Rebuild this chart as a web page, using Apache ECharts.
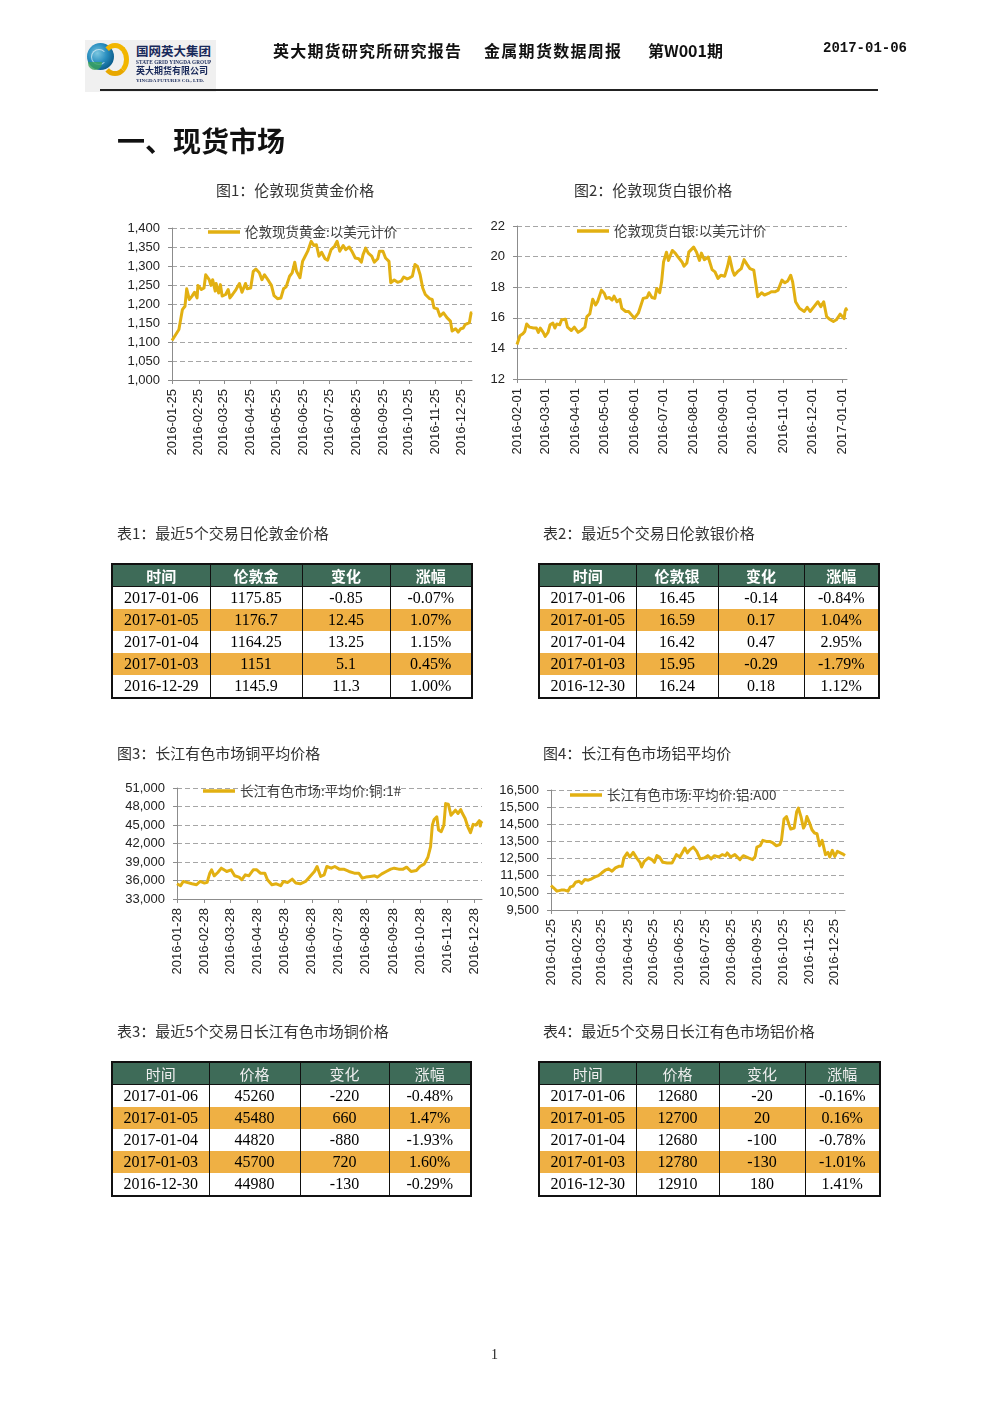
<!DOCTYPE html>
<html><head><meta charset="utf-8">
<script src="https://cdn.jsdelivr.net/npm/echarts@6/dist/echarts.min.js"></script>
<style>
html,body{margin:0;padding:0;background:#fff;}
body{width:992px;height:1403px;position:relative;overflow:hidden;}
#chart{position:absolute;left:0;top:0;width:992px;height:1403px;}
.a{position:absolute;white-space:nowrap;}
.cj{font-family:"Noto Sans CJK SC",sans-serif;}
.cap{font-family:"Noto Sans CJK SC",sans-serif;font-size:15px;line-height:15px;color:#333;}
table.t{position:absolute;border-collapse:collapse;table-layout:fixed;border:2px solid #111;}
table.t th{background:#3E6B58;color:#fff;font-family:"Noto Sans CJK SC",sans-serif;font-size:15px;font-weight:700;height:21px;line-height:21px;padding:0;border-left:1.5px solid #111;border-right:1.5px solid #111;border-bottom:1px solid #111;text-align:center;}
table.t.light th{font-weight:400;color:#eee;}
table.t td{font-family:"Liberation Serif",serif;font-size:16px;height:22px;line-height:22px;padding:0;text-align:center;border-left:1.5px solid #111;border-right:1.5px solid #111;color:#000;}
table.t tr.o td{background:#EFB044;}
</style></head><body>
<div id="chart"></div>
<script>
// ---------------- DATA ----------------
const goldTicks = ['2016-01-25','2016-02-25','2016-03-25','2016-04-25','2016-05-25','2016-06-25','2016-07-25','2016-08-25','2016-09-25','2016-10-25','2016-11-25','2016-12-25'];
const silverTicks = ['2016-02-01','2016-03-01','2016-04-01','2016-05-01','2016-06-01','2016-07-01','2016-08-01','2016-09-01','2016-10-01','2016-11-01','2016-12-01','2017-01-01'];
const copperTicks = ['2016-01-28','2016-02-28','2016-03-28','2016-04-28','2016-05-28','2016-06-28','2016-07-28','2016-08-28','2016-09-28','2016-10-28','2016-11-28','2016-12-28'];
const aluTicks = ['2016-01-25','2016-02-25','2016-03-25','2016-04-25','2016-05-25','2016-06-25','2016-07-25','2016-08-25','2016-09-25','2016-10-25','2016-11-25','2016-12-25'];

const goldData = [
['2016-01-25',1104],['2016-02-02',1133],['2016-02-06',1185],['2016-02-09',1194],['2016-02-11',1240],['2016-02-14',1212],['2016-02-17',1220],['2016-02-20',1231],['2016-02-23',1216],['2016-02-24',1249],['2016-02-28',1238],['2016-03-02',1242],['2016-03-04',1277],['2016-03-08',1264],['2016-03-10',1249],['2016-03-12',1264],['2016-03-15',1234],['2016-03-16',1254],['2016-03-19',1229],['2016-03-21',1251],['2016-03-23',1221],['2016-03-27',1225],['2016-03-30',1238],['2016-04-01',1216],['2016-04-04',1225],['2016-04-08',1238],['2016-04-12',1254],['2016-04-15',1231],['2016-04-19',1254],['2016-04-21',1240],['2016-04-25',1242],['2016-04-28',1286],['2016-05-01',1292],['2016-05-05',1282],['2016-05-08',1264],['2016-05-11',1277],['2016-05-13',1282],['2016-05-16',1260],['2016-05-19',1249],['2016-05-22',1222],['2016-05-26',1214],['2016-05-30',1216],['2016-06-02',1240],['2016-06-05',1245],['2016-06-09',1273],['2016-06-12',1282],['2016-06-15',1310],['2016-06-17',1286],['2016-06-21',1269],['2016-06-24',1312],['2016-06-26',1321],['2016-06-30',1339],['2016-07-04',1365],['2016-07-07',1354],['2016-07-10',1356],['2016-07-13',1326],['2016-07-16',1336],['2016-07-20',1319],['2016-07-23',1315],['2016-07-27',1343],['2016-07-31',1352],['2016-08-03',1365],['2016-08-06',1339],['2016-08-10',1354],['2016-08-13',1343],['2016-08-17',1350],['2016-08-20',1339],['2016-08-24',1321],['2016-08-28',1319],['2016-08-31',1310],['2016-09-02',1330],['2016-09-05',1347],['2016-09-08',1334],['2016-09-12',1326],['2016-09-15',1310],['2016-09-19',1319],['2016-09-21',1339],['2016-09-25',1339],['2016-09-28',1321],['2016-10-02',1312],['2016-10-04',1256],['2016-10-08',1263],['2016-10-12',1257],['2016-10-16',1260],['2016-10-19',1271],['2016-10-23',1266],['2016-10-26',1269],['2016-10-29',1273],['2016-11-01',1304],['2016-11-04',1299],['2016-11-07',1277],['2016-11-10',1242],['2016-11-13',1225],['2016-11-15',1229],['2016-11-18',1214],['2016-11-21',1212],['2016-11-23',1190],['2016-11-27',1187],['2016-11-30',1168],['2016-12-04',1177],['2016-12-08',1164],['2016-12-12',1155],['2016-12-14',1129],['2016-12-18',1135],['2016-12-21',1126],['2016-12-24',1135],['2016-12-27',1137],['2016-12-29',1145.9],['2017-01-03',1151],['2017-01-04',1164.25],['2017-01-05',1176.7],['2017-01-06',1175.85]
];
const silverData = [
['2016-02-01',14.25],['2016-02-04',14.83],['2016-02-07',14.96],['2016-02-09',15.11],['2016-02-11',15.6],['2016-02-14',15.39],['2016-02-18',15.33],['2016-02-21',15.33],['2016-02-23',15.05],['2016-02-25',15.33],['2016-02-28',15.05],['2016-03-01',14.79],['2016-03-04',15.05],['2016-03-06',15.54],['2016-03-09',15.65],['2016-03-11',15.33],['2016-03-13',15.6],['2016-03-16',15.54],['2016-03-18',15.87],['2016-03-19',15.97],['2016-03-22',15.91],['2016-03-24',15.39],['2016-03-28',15.17],['2016-03-31',15.39],['2016-04-04',15.05],['2016-04-07',15.17],['2016-04-11',15.39],['2016-04-13',16.08],['2016-04-16',16.25],['2016-04-19',17.21],['2016-04-22',16.84],['2016-04-24',17.05],['2016-04-28',17.81],['2016-05-01',17.59],['2016-05-03',17.27],['2016-05-06',17.33],['2016-05-09',17.16],['2016-05-11',17.42],['2016-05-14',17.05],['2016-05-17',17.21],['2016-05-19',16.62],['2016-05-23',16.41],['2016-05-26',16.41],['2016-05-29',16.19],['2016-06-01',15.97],['2016-06-05',16.3],['2016-06-07',16.41],['2016-06-10',17.27],['2016-06-14',17.33],['2016-06-16',17.64],['2016-06-19',17.33],['2016-06-22',17.27],['2016-06-24',17.92],['2016-06-27',17.64],['2016-06-29',18.35],['2016-07-01',19.65],['2016-07-04',20.29],['2016-07-06',19.75],['2016-07-10',20.4],['2016-07-13',20.23],['2016-07-16',19.97],['2016-07-20',19.65],['2016-07-22',19.37],['2016-07-25',19.58],['2016-07-27',20.29],['2016-08-01',20.62],['2016-08-04',20.29],['2016-08-07',19.75],['2016-08-09',20.23],['2016-08-12',19.8],['2016-08-16',19.97],['2016-08-20',19.15],['2016-08-23',19.0],['2016-08-26',18.57],['2016-08-29',18.78],['2016-09-02',18.72],['2016-09-05',19.37],['2016-09-07',19.97],['2016-09-10',19.11],['2016-09-12',18.78],['2016-09-15',19.0],['2016-09-19',19.21],['2016-09-22',19.8],['2016-09-25',19.49],['2016-09-28',19.21],['2016-10-02',19.11],['2016-10-04',18.24],['2016-10-06',17.38],['2016-10-10',17.64],['2016-10-13',17.49],['2016-10-17',17.59],['2016-10-20',17.7],['2016-10-24',17.7],['2016-10-27',17.81],['2016-10-31',18.46],['2016-11-03',18.29],['2016-11-06',18.41],['2016-11-09',18.78],['2016-11-11',18.35],['2016-11-14',17.05],['2016-11-18',16.62],['2016-11-20',16.73],['2016-11-23',16.41],['2016-11-26',16.69],['2016-11-29',16.41],['2016-12-03',16.73],['2016-12-07',17.05],['2016-12-10',16.73],['2016-12-13',17.05],['2016-12-16',16.08],['2016-12-19',15.91],['2016-12-23',15.76],['2016-12-26',15.87],['2016-12-30',16.24],['2017-01-03',15.95],['2017-01-04',16.42],['2017-01-05',16.59],['2017-01-06',16.45]
];
const copperData = [
['2016-01-28',35470],['2016-02-01',35150],['2016-02-04',35850],['2016-02-08',35690],['2016-02-14',35470],['2016-02-19',35310],['2016-02-23',35850],['2016-02-28',35580],['2016-03-02',35690],['2016-03-05',37190],['2016-03-07',37730],['2016-03-10',36760],['2016-03-14',37300],['2016-03-18',38000],['2016-03-21',37730],['2016-03-24',37460],['2016-03-29',37730],['2016-04-02',36760],['2016-04-07',36550],['2016-04-10',36120],['2016-04-14',36920],['2016-04-18',36760],['2016-04-23',37730],['2016-04-27',37730],['2016-05-01',37190],['2016-05-06',37190],['2016-05-09',36120],['2016-05-14',35310],['2016-05-19',35470],['2016-05-24',35150],['2016-05-27',35850],['2016-06-01',35690],['2016-06-06',36220],['2016-06-10',35580],['2016-06-15',35470],['2016-06-21',35850],['2016-06-26',36650],['2016-07-01',37460],['2016-07-04',38270],['2016-07-08',36650],['2016-07-12',36920],['2016-07-15',38270],['2016-07-20',38000],['2016-07-24',38270],['2016-07-29',37840],['2016-08-03',37840],['2016-08-09',37460],['2016-08-15',37190],['2016-08-20',37190],['2016-08-24',36380],['2016-08-28',36550],['2016-09-02',36650],['2016-09-07',36760],['2016-09-10',36550],['2016-09-15',37080],['2016-09-20',37460],['2016-09-25',37840],['2016-09-29',38000],['2016-10-04',37840],['2016-10-09',37840],['2016-10-13',38160],['2016-10-18',37460],['2016-10-24',37620],['2016-10-28',38270],['2016-11-02',38700],['2016-11-06',39770],['2016-11-09',41490],['2016-11-11',44980],['2016-11-13',45900],['2016-11-16',46330],['2016-11-18',44180],['2016-11-21',43910],['2016-11-24',44980],['2016-11-26',48470],['2016-11-29',48370],['2016-12-02',46590],['2016-12-04',46590],['2016-12-07',47400],['2016-12-10',46860],['2016-12-13',47510],['2016-12-15',46860],['2016-12-18',46060],['2016-12-21',44710],['2016-12-24',43750],['2016-12-27',45100],['2016-12-30',44980],['2017-01-03',45700],['2017-01-04',44820],['2017-01-05',45480],['2017-01-06',45260]
];
const aluData = [
['2016-01-25',10930],['2016-01-28',10795],['2016-02-01',10600],['2016-02-03',10505],['2016-02-06',10660],['2016-02-10',10660],['2016-02-14',10600],['2016-02-17',10850],['2016-02-20',10890],['2016-02-23',11120],['2016-02-27',11180],['2016-03-01',11050],['2016-03-05',11280],['2016-03-09',11240],['2016-03-13',11320],['2016-03-17',11430],['2016-03-21',11510],['2016-03-25',11670],['2016-03-29',11820],['2016-04-02',11900],['2016-04-06',11760],['2016-04-10',11955],['2016-04-14',12050],['2016-04-18',12050],['2016-04-20',12540],['2016-04-24',12830],['2016-04-27',12590],['2016-05-01',12860],['2016-05-05',12540],['2016-05-09',12280],['2016-05-11',12010],['2016-05-14',12340],['2016-05-19',12540],['2016-05-23',12440],['2016-05-26',12280],['2016-05-29',12670],['2016-06-01',12590],['2016-06-05',12280],['2016-06-10',12245],['2016-06-16',12245],['2016-06-18',12340],['2016-06-21',12730],['2016-06-25',12590],['2016-06-27',12670],['2016-07-01',13115],['2016-07-04',12830],['2016-07-07',13020],['2016-07-11',13170],['2016-07-15',12920],['2016-07-19',12480],['2016-07-24',12540],['2016-07-28',12670],['2016-08-01',12480],['2016-08-05',12670],['2016-08-10',12590],['2016-08-14',12730],['2016-08-18',12670],['2016-08-20',12830],['2016-08-24',12590],['2016-08-29',12730],['2016-09-04',12440],['2016-09-08',12670],['2016-09-14',12540],['2016-09-19',12440],['2016-09-22',12630],['2016-09-24',13170],['2016-09-28',13250],['2016-10-01',13560],['2016-10-05',13500],['2016-10-09',13500],['2016-10-13',13410],['2016-10-17',13250],['2016-10-21',13310],['2016-10-23',13560],['2016-10-26',14800],['2016-10-29',14950],['2016-11-01',14470],['2016-11-03',14220],['2016-11-07',14280],['2016-11-10',15240],['2016-11-12',15440],['2016-11-15',14950],['2016-11-18',14280],['2016-11-20',14470],['2016-11-22',14950],['2016-11-25',14600],['2016-11-28',14180],['2016-12-01',13990],['2016-12-04',13950],['2016-12-07',13250],['2016-12-10',13560],['2016-12-12',13500],['2016-12-14',12730],['2016-12-17',12860],['2016-12-19',12590],['2016-12-22',12980],['2016-12-25',12630],['2016-12-28',12920],['2016-12-30',12910],['2017-01-03',12780],['2017-01-04',12680],['2017-01-05',12700],['2017-01-06',12680]
];

const tableHead1 = ['时间','伦敦金','变化','涨幅'];
const tableRows1 = [['2017-01-06','1175.85','-0.85','-0.07%'],['2017-01-05','1176.7','12.45','1.07%'],['2017-01-04','1164.25','13.25','1.15%'],['2017-01-03','1151','5.1','0.45%'],['2016-12-29','1145.9','11.3','1.00%']];
const tableHead2 = ['时间','伦敦银','变化','涨幅'];
const tableRows2 = [['2017-01-06','16.45','-0.14','-0.84%'],['2017-01-05','16.59','0.17','1.04%'],['2017-01-04','16.42','0.47','2.95%'],['2017-01-03','15.95','-0.29','-1.79%'],['2016-12-30','16.24','0.18','1.12%']];
const tableHead3 = ['时间','价格','变化','涨幅'];
const tableRows3 = [['2017-01-06','45260','-220','-0.48%'],['2017-01-05','45480','660','1.47%'],['2017-01-04','44820','-880','-1.93%'],['2017-01-03','45700','720','1.60%'],['2016-12-30','44980','-130','-0.29%']];
const tableHead4 = ['时间','价格','变化','涨幅'];
const tableRows4 = [['2017-01-06','12680','-20','-0.16%'],['2017-01-05','12700','20','0.16%'],['2017-01-04','12680','-100','-0.78%'],['2017-01-03','12780','-130','-1.01%'],['2016-12-30','12910','180','1.41%']];
// --------------------------------------

const LINE = '#E2B012';
function dayList(start, end){
  const out=[]; let t=Date.parse(start+'T00:00:00Z'); const e=Date.parse(end+'T00:00:00Z');
  while(t<=e){ out.push(new Date(t).toISOString().slice(0,10)); t+=86400000; }
  return out;
}
const fmt = v => Number(v).toLocaleString('en-US');
const panels = [
  {name:'伦敦现货黄金:以美元计价', data:goldData, start:'2016-01-25', end:'2017-01-06', ticks:goldTicks, min:1000, max:1400, interval:50, fmt:fmt,
   grid:{left:172,top:228,width:300,height:152}, leg:{left:208,top:225}},
  {name:'伦敦现货白银:以美元计价', data:silverData, start:'2016-02-01', end:'2017-01-06', ticks:silverTicks, min:12, max:22, interval:2, fmt:v=>String(v),
   grid:{left:517,top:226,width:330,height:153}, leg:{left:577,top:224}},
  {name:'长江有色市场:平均价:铜:1#', data:copperData, start:'2016-01-28', end:'2017-01-06', ticks:copperTicks, min:33000, max:51000, interval:3000, fmt:fmt,
   grid:{left:177,top:788,width:305,height:111}, leg:{left:203,top:784}},
  {name:'长江有色市场:平均价:铝:A00', data:aluData, start:'2016-01-25', end:'2017-01-06', ticks:aluTicks, min:9500, max:16500, interval:1000, fmt:fmt,
   grid:{left:551,top:790,width:294,height:120}, leg:{left:570,top:788}}
];
const axisColor = '#8C8C8C';
const option = {
  animation:false,
  backgroundColor:'transparent',
  grid: panels.map(p=>Object.assign({outerBoundsMode:'none', containLabel:false}, p.grid)),
  legend: panels.map(p=>({data:[p.name], left:p.leg.left, top:p.leg.top, padding:0, icon:'rect', itemWidth:32, itemHeight:3.5,
     selectedMode:false, textStyle:{fontFamily:'Noto Sans CJK SC', fontSize:13.5, lineHeight:14, color:'#404040'}})),
  xAxis: panels.map((p,i)=>{
    const fn = (idx, val) => p.ticks.indexOf(val) >= 0;
    return {type:'category', gridIndex:i, boundaryGap:false, data:dayList(p.start,p.end),
      axisLine:{show:true, lineStyle:{color:axisColor, width:1}},
      axisTick:{show:true, interval:fn, length:4, lineStyle:{color:axisColor}},
      axisLabel:{show:true, interval:fn, rotate:90, margin:9, fontFamily:'Liberation Sans', fontSize:13, color:'#222', hideOverlap:false},
      splitLine:{show:false}};
  }),
  yAxis: panels.map((p,i)=>({type:'value', gridIndex:i, min:p.min, max:p.max, interval:p.interval,
      axisLine:{show:true, lineStyle:{color:axisColor, width:1}},
      axisTick:{show:true, length:4, lineStyle:{color:axisColor}},
      axisLabel:{show:true, margin:12, formatter:p.fmt, fontFamily:'Liberation Sans', fontSize:13, color:'#222'},
      splitLine:{show:true, lineStyle:{type:[5,3], color:'#A6A6A6', width:1}}})),
  series: panels.map((p,i)=>({type:'line', name:p.name, xAxisIndex:i, yAxisIndex:i, data:p.data, showSymbol:false, symbol:'none',
      lineStyle:{color:LINE, width:3, join:'round'}, itemStyle:{color:LINE}, emphasis:{disabled:true}}))
};
const chart = echarts.init(document.getElementById('chart'), null, {renderer:'canvas'});
chart.setOption(option);

function makeTable(head, rows, cols, left, top, light){
  const t = document.createElement('table');
  t.className = 't' + (light ? ' light' : '');
  t.style.left = left+'px'; t.style.top = top+'px';
  t.style.width = cols.reduce((a,b)=>a+b,0)+'px';
  let h = '<colgroup>' + cols.map(w=>'<col style="width:'+w+'px">').join('') + '</colgroup>';
  h += '<tr>' + head.map(x=>'<th>'+x+'</th>').join('') + '</tr>';
  rows.forEach((r,i)=>{ h += '<tr'+(i%2===1?' class="o"':'')+'>' + r.map(x=>'<td>'+x+'</td>').join('') + '</tr>'; });
  t.innerHTML = h;
  document.body.appendChild(t);
}
makeTable(tableHead1, tableRows1, [98,92,88,82], 111, 563, false);
makeTable(tableHead2, tableRows2, [97,82,86,75], 538, 563, false);
makeTable(tableHead3, tableRows3, [97,91,89,82], 111, 1061, true);
makeTable(tableHead4, tableRows4, [97,83,86,75], 538, 1061, true);
</script>

<!-- header / logo -->
<div class="a" style="left:85px;top:40px;width:131px;height:52px;background:#f0f0f0;"></div>
<div class="a" style="left:87px;top:43px;width:27px;height:27px;border-radius:50%;background:radial-gradient(circle at 38% 38%,#7cc7e0 0%,#2a8fc0 40%,#0b5d8c 75%,#0a4a70 100%);"></div>
<div class="a" style="left:91px;top:49px;width:14px;height:14px;border-radius:50%;border:1.5px solid rgba(255,255,255,0.6);border-right-color:transparent;"></div>
<div class="a" style="left:101px;top:43px;width:18px;height:23px;border-radius:50%;border:5px solid #F2B600;border-left-color:transparent;border-bottom-color:#e8a800;"></div>
<div class="a" style="left:88px;top:62px;width:14px;height:8px;border-radius:0 0 8px 8px;background:#3aa35a;opacity:0.8;"></div>
<div class="a cj" style="left:136px;top:44px;font-size:12.5px;line-height:13px;font-weight:700;color:#18295a;">国网英大集团</div>
<div class="a" style="left:136px;top:59px;font-family:'Liberation Serif',serif;font-size:5.2px;line-height:6px;font-weight:700;color:#18295a;letter-spacing:0.1px;">STATE GRID YINGDA GROUP</div>
<div class="a cj" style="left:136px;top:66px;font-size:9px;line-height:10px;font-weight:700;color:#18295a;">英大期货有限公司</div>
<div class="a" style="left:136px;top:78px;font-family:'Liberation Serif',serif;font-size:5px;line-height:6px;font-weight:700;color:#18295a;">YINGDA FUTURES CO., LTD.</div>

<div class="a cj" style="left:273px;top:42px;font-size:16px;line-height:17px;font-weight:700;color:#111;letter-spacing:1.2px;">英大期货研究所研究报告</div>
<div class="a cj" style="left:484px;top:42px;font-size:16px;line-height:17px;font-weight:700;color:#111;letter-spacing:1.3px;">金属期货数据周报</div>
<div class="a cj" style="left:648px;top:42px;font-size:16px;line-height:17px;font-weight:700;color:#111;">第W001期</div>
<div class="a" style="left:823px;top:41px;font-family:'Liberation Mono',monospace;font-size:14px;line-height:15px;font-weight:700;color:#111;">2017-01-06</div>
<div class="a" style="left:100px;top:89px;width:778px;height:2px;background:#222;"></div>

<div class="a cj" style="left:117px;top:125px;font-size:28px;line-height:30px;font-weight:700;color:#111;">一、现货市场</div>

<div class="a cap" style="left:216px;top:182px;">图1：伦敦现货黄金价格</div>
<div class="a cap" style="left:574px;top:182px;">图2：伦敦现货白银价格</div>
<div class="a cap" style="left:117px;top:525px;">表1：最近5个交易日伦敦金价格</div>
<div class="a cap" style="left:543px;top:525px;">表2：最近5个交易日伦敦银价格</div>
<div class="a cap" style="left:117px;top:745px;">图3：长江有色市场铜平均价格</div>
<div class="a cap" style="left:543px;top:745px;">图4：长江有色市场铝平均价</div>
<div class="a cap" style="left:117px;top:1023px;">表3：最近5个交易日长江有色市场铜价格</div>
<div class="a cap" style="left:543px;top:1023px;">表4：最近5个交易日长江有色市场铝价格</div>

<div class="a" style="left:491px;top:1347px;font-family:'Liberation Serif',serif;font-size:14px;line-height:16px;color:#222;">1</div>
</body></html>
